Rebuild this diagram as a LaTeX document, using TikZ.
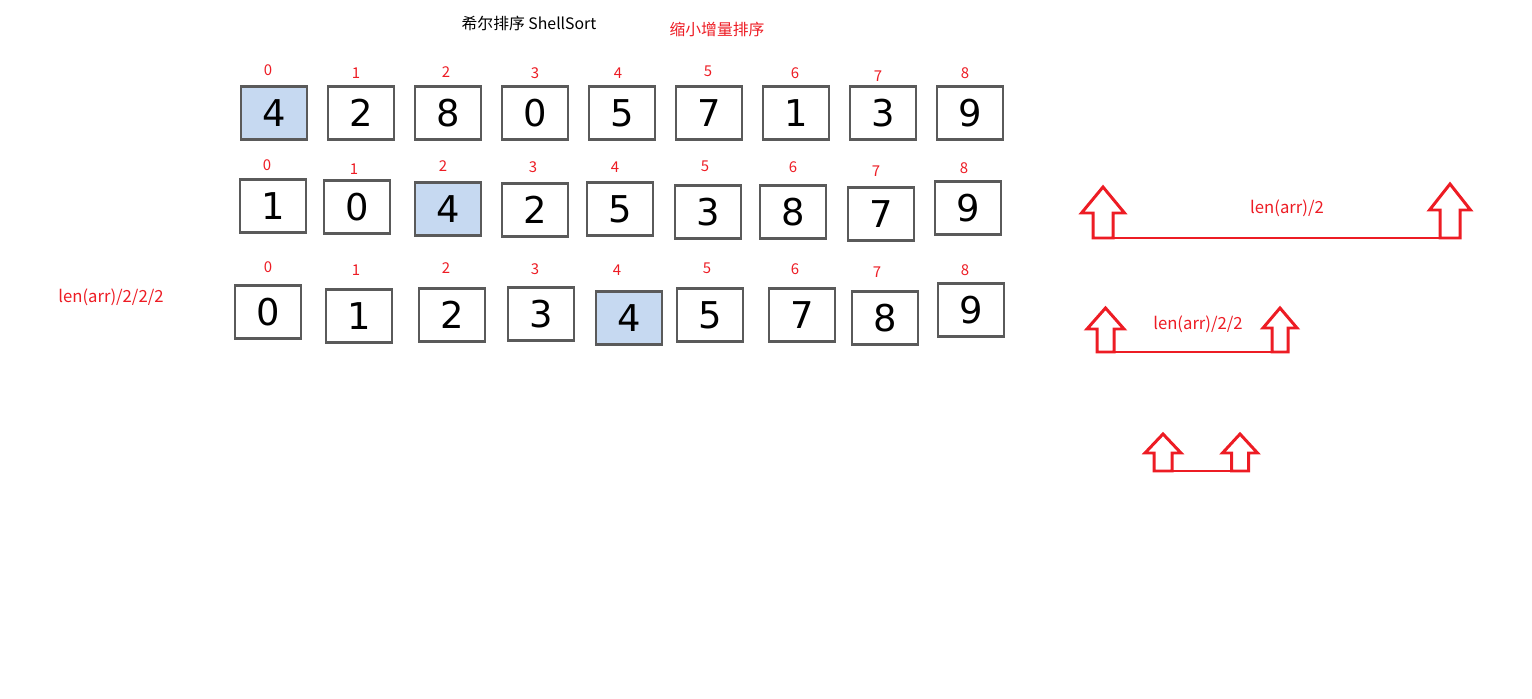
\documentclass[tikz,border=0pt]{standalone}
\usepackage{fontspec}
\setmainfont{Noto Sans CJK SC}
\newfontfamily\digitfont{DejaVu Sans}
\usepackage{tikz}
\usetikzlibrary{positioning}
\definecolor{markred}{HTML}{ED1C24}
\definecolor{cellblue}{HTML}{C6D9F1}
\definecolor{cellgray}{HTML}{5A5A5A}
\tikzset{
  cell/.style = {draw=cellgray, line width=1.2pt, inner sep=0pt,
    minimum width=1.32cm, minimum height=1.06cm,
    font=\digitfont\fontsize{21}{21}\selectfont},
  cell_h/.style = {cell, fill=cellblue},% current element
  idx/.style = {text=markred, inner sep=0pt,
    font=\fontsize{8.5}{8.5}\selectfont},% array index
  note/.style = {text=markred, inner sep=0pt,
    font=\fontsize{9.5}{9.5}\selectfont},% gap label
  arrowline/.style = {draw=markred, line width=1.7pt, line join=miter},
  % hollow up arrow: {length}{head length}{head half width}{shaft half width}
  pics/uparrow/.style n args = {4}{code={
    \coordinate (-foot) at (0,0);
    \draw[arrowline] (-#4,0) -- (-#4,-#1+#2) -- (-#3,-#1+#2) -- (0,-#1)
      -- (#3,-#1+#2) -- (#4,-#1+#2) -- (#4,0) -- cycle;
  }}
}
\begin{document}
\begin{tikzpicture}[x=0.02cm, y=-0.02cm]
\useasboundingbox (0,0) rectangle (1532,699);
% titles
\node[font=\fontsize{9}{9}\selectfont] (title) at (529,23) {希尔排序 ShellSort};
\node[note, font=\fontsize{9}{9}\selectfont] (subtitle) at (717,29) {缩小增量排序};
% row 1
\foreach \x/\y/\v/\s [count=\i from 0] in {274/113/4/cell_h, 361/113/2/cell,
    448/113/8/cell, 535/113/0/cell, 622/113/5/cell, 709/113/7/cell,
    796/113/1/cell, 883/113/3/cell, 970/113/9/cell}
  \node[\s] (ra\i) at (\x,\y) {\v};
\foreach \x/\y [count=\i from 0] in {268/70, 356/73, 446/72, 535/73, 618/73,
    708/71, 795/73, 878/76, 965/73}
  \node[idx] (ia\i) at (\x,\y) {\i};
% row 2
\foreach \x/\y/\v/\s [count=\i from 0] in {273/206/1/cell, 357/207/0/cell,
    448/209/4/cell_h, 535/210/2/cell, 620/209/5/cell, 708/212/3/cell,
    793/212/8/cell, 881/214/7/cell, 968/208/9/cell}
  \node[\s] (rb\i) at (\x,\y) {\v};
\foreach \x/\y [count=\i from 0] in {267/165, 354/169, 443/166, 533/167, 615/167,
    705/166, 793/167, 876/171, 964/168}
  \node[idx] (ib\i) at (\x,\y) {\i};
% row 3
\foreach \x/\y/\v/\s [count=\i from 0] in {268/312/0/cell, 359/316/1/cell,
    452/315/2/cell, 541/314/3/cell, 629/318/4/cell_h, 710/315/5/cell,
    802/315/7/cell, 885/318/8/cell, 971/310/9/cell}
  \node[\s] (rc\i) at (\x,\y) {\v};
\foreach \x/\y [count=\i from 0] in {268/267, 356/270, 446/268, 535/269, 617/270,
    707/268, 795/269, 877/272, 965/270}
  \node[idx] (ic\i) at (\x,\y) {\i};
\node[note] (gap3) at (111,297) {len(arr)/2/2/2};
% gap arrows
\pic (la) at (1103,238) {uparrow={51}{26}{21.5}{10}};
\pic (lb) at (1450,238) {uparrow={54}{26}{20.5}{10}};
\draw[arrowline] (la-foot) -- (lb-foot);
\node[note] (gap1) at (1287,208) {len(arr)/2};
\pic (ma) at (1105.5,352) {uparrow={44}{21}{18.5}{8.5}};
\pic (mb) at (1280,352) {uparrow={44}{20}{17}{8}};
\draw[arrowline] (ma-foot) -- (mb-foot);
\node[note] (gap2) at (1198,324) {len(arr)/2/2};
\pic (sa) at (1163,471) {uparrow={37}{19}{18}{9}};
\pic (sb) at (1240,471) {uparrow={37}{19}{17.5}{8.5}};
\draw[arrowline] (sa-foot) -- (sb-foot);
\end{tikzpicture}
\end{document}
